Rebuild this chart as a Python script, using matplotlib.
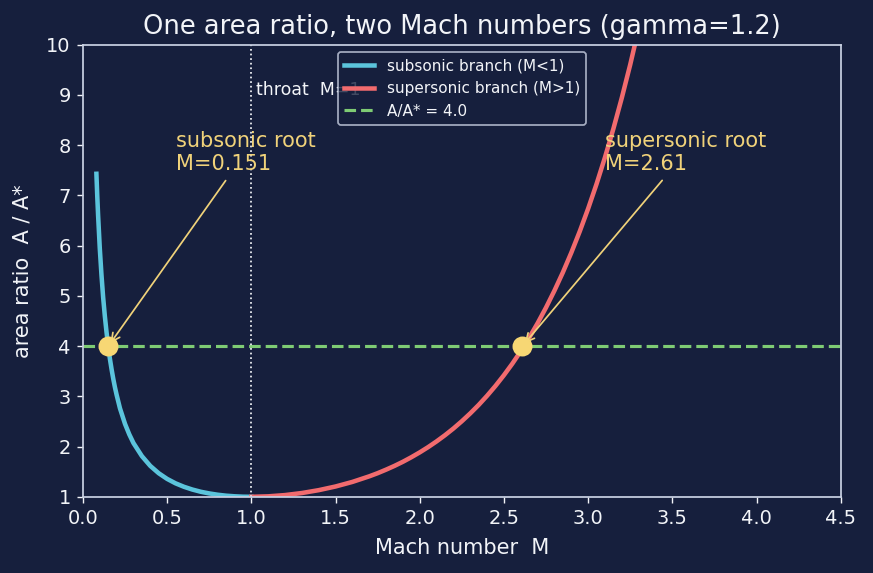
import matplotlib
matplotlib.use("Agg")
import matplotlib.pyplot as plt

# area ratio A/A* for gamma = 1.2
mach_sub = [0.08, 0.085, 0.09, 0.10, 0.11, 0.12, 0.13, 0.14, 0.15, 0.16, 0.17, 0.18,
            0.19, 0.20, 0.22, 0.25, 0.275, 0.30, 0.35, 0.40, 0.45, 0.50, 0.55, 0.60,
            0.65, 0.70, 0.75, 0.80, 0.85, 0.90, 0.95, 1.00]
ratio_sub = [7.43, 6.99, 6.61, 5.95, 5.42, 4.97, 4.60, 4.28, 4.00, 3.75, 3.54, 3.35,
             3.18, 3.03, 2.76, 2.45, 2.244, 2.07, 1.81, 1.615, 1.469, 1.356, 1.268, 1.199,
             1.144, 1.100, 1.067, 1.041, 1.022, 1.010, 1.002, 1.0]

mach_sup = [1.0, 1.1, 1.2, 1.3, 1.4, 1.5, 1.6, 1.7, 1.75, 1.8, 1.85, 1.9, 1.95, 2.0,
            2.05, 2.1, 2.15, 2.2, 2.25, 2.3, 2.35, 2.4, 2.45, 2.5, 2.55, 2.6, 2.65,
            2.7, 2.75, 2.8, 2.85, 2.9, 2.95, 3.0, 3.05, 3.1, 3.15, 3.2, 3.25, 3.3, 3.35]
ratio_sup = [1.0, 1.009, 1.034, 1.075, 1.132, 1.205, 1.296, 1.407, 1.470, 1.540, 1.615,
             1.697, 1.787, 1.884, 1.989, 2.103, 2.226, 2.359, 2.504, 2.660, 2.828, 3.011,
             3.208, 3.421, 3.650, 3.898, 4.166, 4.455, 4.767, 5.104, 5.466, 5.858, 6.280,
             6.735, 7.226, 7.756, 8.326, 8.941, 9.602, 10.32, 11.08]

target_ratio = 4.0
root_sub = 0.151
root_sup = 2.61

bg = "#161f3d"
fg = "#f2f4f8"
spine_col = "#c9d1e3"

fig, ax = plt.subplots(figsize=(6.984, 4.584), dpi=125)
fig.patch.set_facecolor(bg)
ax.set_facecolor(bg)

ax.plot(mach_sub, ratio_sub, color="#5bc4dc", lw=2.6, label="subsonic branch (M<1)")
ax.plot(mach_sup, ratio_sup, color="#f26b6e", lw=2.6, label="supersonic branch (M>1)")
ax.axhline(target_ratio, color="#7ecb74", lw=1.8, ls="--", label="A/A* = 4.0")
ax.axvline(1.0, color=fg, lw=1.0, ls=":")
ax.text(1.03, 9.0, "throat  M=1", color=fg, fontsize=10)

ax.plot([root_sub, root_sup], [target_ratio, target_ratio], "o",
        color="#f7d774", markersize=10.5, zorder=5)

ann_col = "#f0d27a"
ax.annotate(f"subsonic root\nM={root_sub:.3f}", xy=(root_sub, target_ratio),
            xytext=(0.55, 7.5), color=ann_col, fontsize=12,
            arrowprops=dict(arrowstyle="->", color=ann_col, lw=1))
ax.annotate(f"supersonic root\nM={root_sup:.2f}", xy=(root_sup, target_ratio),
            xytext=(3.1, 7.5), color=ann_col, fontsize=12,
            arrowprops=dict(arrowstyle="->", color=ann_col, lw=1))

ax.set_xlim(0, 4.5)
ax.set_ylim(1, 10)
ax.set_yticks(range(1, 11))
ax.set_xlabel("Mach number  M", color=fg, fontsize=12, labelpad=6)
ax.set_ylabel("area ratio  A / A*", color=fg, fontsize=12, labelpad=8)
ax.set_title("One area ratio, two Mach numbers (gamma=1.2)", color=fg, fontsize=14.8)
ax.tick_params(colors=fg, labelsize=11.2)
for s in ax.spines.values():
    s.set_color(spine_col)
    s.set_linewidth(1.0)

leg = ax.legend(loc="upper center", fontsize=8.8, facecolor=bg, edgecolor=spine_col,
                labelcolor=fg, framealpha=0.8)

fig.subplots_adjust(left=0.095, right=0.963, top=0.922, bottom=0.133)
fig.savefig("out.png", facecolor=bg)
